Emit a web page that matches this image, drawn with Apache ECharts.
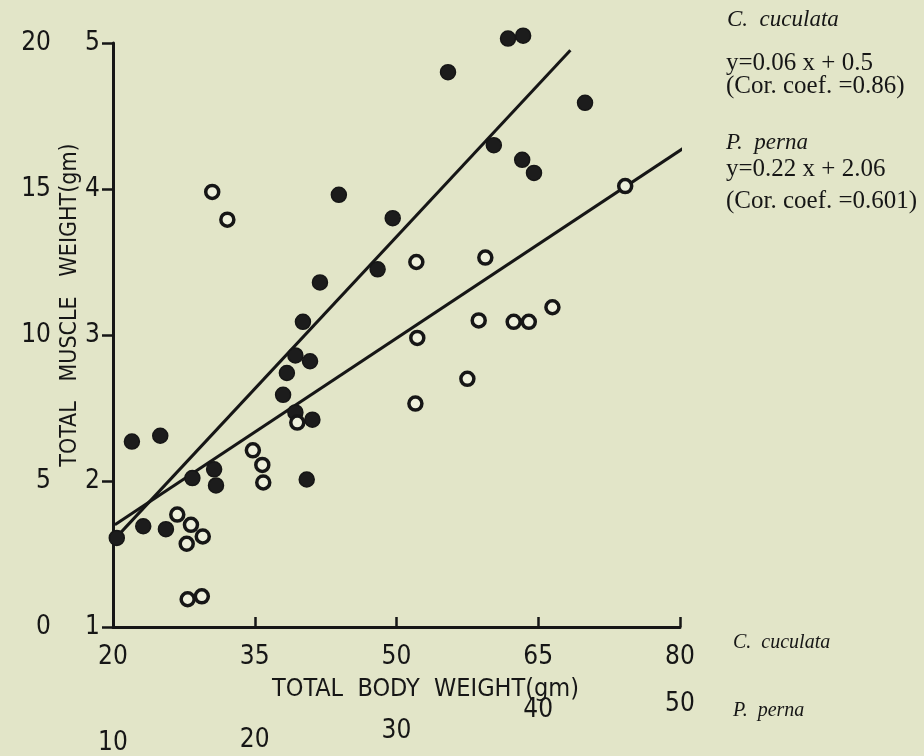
<!DOCTYPE html>
<html>
<head>
<meta charset="utf-8">
<script src="https://cdn.jsdelivr.net/npm/echarts@6/dist/echarts.min.js"></script>
<style>
html,body{margin:0;padding:0;background:#e2e5c8;}
#chart{width:924px;height:756px;}
</style>
</head>
<body>
<div id="chart"></div>
<script>
// Primary scale (C. cuculata body weight, muscle weight gm)
var xTicksMain = [20, 35, 50, 65, 80];
var yTicksMain = [1, 2, 3, 4, 5];
// Secondary scales (P. perna)
var xTicksPerna = [10, 20, 30, 40, 50];
var yTicksPerna = [0, 5, 10, 15, 20];

// Dark (thick / filled) points
var darkPoints = [
  [61.8, 5.03], [63.4, 5.05], [55.45, 4.80], [69.95, 4.59], [60.3, 4.30],
  [63.3, 4.20], [64.55, 4.11], [49.6, 3.80], [43.9, 3.96], [48.0, 3.45],
  [41.9, 3.36], [40.1, 3.09], [39.3, 2.86], [40.85, 2.82], [38.4, 2.74],
  [38.0, 2.59], [39.3, 2.47], [41.1, 2.42], [22.0, 2.27], [25.0, 2.31],
  [30.9, 1.97], [30.7, 2.08], [28.4, 2.02], [40.5, 2.01], [23.2, 1.69],
  [25.6, 1.67], [20.4, 1.61]
];
// Open ring points
var openPoints = [
  [30.5, 3.98], [32.1, 3.79], [52.1, 3.50], [59.4, 3.53], [52.2, 2.98],
  [57.5, 2.70], [52.0, 2.53], [66.5, 3.19], [62.4, 3.09], [64.0, 3.09],
  [58.7, 3.10], [74.2, 4.02], [34.8, 2.21], [35.8, 2.11], [35.9, 1.99],
  [26.8, 1.77], [28.25, 1.70], [29.5, 1.62], [27.8, 1.57], [27.9, 1.19],
  [29.4, 1.21], [39.5, 2.40]
];
// Regression lines (end points in data units)
var lineSteep = [[20.0, 1.59], [68.4, 4.95]];
var lineShallow = [[20.2, 1.70], [81.3, 4.32]];

// Label lifts for staggered P. perna ticks
var pernaLift = [0, 3, 12, 33, 39];

var ink = '#161616';
var condensed = '"DejaVu Sans Condensed", "DejaVu Sans", sans-serif';
var serif = '"Liberation Serif", "DejaVu Serif", serif';

var rich = {};
pernaLift.forEach(function (l, i) { rich['p' + i] = { padding: [0, 0, l, 0], fontFamily: condensed, fontSize: 26, color: ink }; });

var chart = echarts.init(document.getElementById('chart'));
chart.setOption({
  animation: false,
  backgroundColor: '#e2e5c8',
  grid: { left: 113, right: 244, top: 43, bottom: 126 },
  xAxis: [
    {
      type: 'value', min: xTicksMain[0], max: xTicksMain[xTicksMain.length - 1], interval: 15,
      splitLine: { show: false },
      axisLine: { lineStyle: { color: ink, width: 3 } },
      axisTick: { inside: true, length: 10, lineStyle: { color: ink, width: 2.5 } },
      axisLabel: { margin: 17, fontFamily: condensed, fontSize: 26, color: ink }
    },
    {
      type: 'value', position: 'bottom', offset: 127,
      min: xTicksPerna[0], max: xTicksPerna[xTicksPerna.length - 1], interval: 10,
      splitLine: { show: false }, axisLine: { show: false }, axisTick: { show: false },
      axisLabel: {
        margin: 2, verticalAlign: 'bottom',
        formatter: function (v) { var i = xTicksPerna.indexOf(v); return '{p' + i + '|' + v + '}'; },
        rich: rich
      }
    }
  ],
  yAxis: [
    {
      type: 'value', min: yTicksMain[0], max: yTicksMain[yTicksMain.length - 1], interval: 1,
      splitLine: { show: false },
      axisLine: { lineStyle: { color: ink, width: 3 } },
      axisTick: { length: 11, lineStyle: { color: ink, width: 2.5 } },
      axisLabel: { margin: 13, fontFamily: condensed, fontSize: 26, color: ink },
      name: 'TOTAL   MUSCLE   WEIGHT(gm)', nameLocation: 'middle', nameGap: 31, nameRotate: 90,
      nameMoveOverlap: false,
      nameTextStyle: { fontFamily: condensed, fontSize: 23, color: ink, padding: [0, 0, 0, 60] }
    },
    {
      type: 'value', position: 'left', offset: 60,
      min: yTicksPerna[0], max: yTicksPerna[yTicksPerna.length - 1], interval: 5,
      splitLine: { show: false }, axisLine: { show: false }, axisTick: { show: false },
      axisLabel: { margin: 2, fontFamily: condensed, fontSize: 26, color: ink }
    }
  ],
  graphic: [
    { type: 'text', left: 272, top: 677, style: { text: 'TOTAL  BODY  WEIGHT(gm)', font: '25px ' + condensed, fill: ink } },
    { type: 'text', left: 733, top: 633, style: { text: 'C.  cuculata', font: 'italic 20px ' + serif, fill: ink } },
    { type: 'text', left: 733, top: 701, style: { text: 'P.  perna', font: 'italic 20px ' + serif, fill: ink } },
    { type: 'text', left: 727, top: 8, style: { text: 'C.  cuculata', font: 'italic 23px ' + serif, fill: ink } },
    { type: 'text', left: 726, top: 51, style: { text: 'y=0.06 x + 0.5', font: '25px ' + serif, fill: ink } },
    { type: 'text', left: 726, top: 74, style: { text: '(Cor. coef. =0.86)', font: '25px ' + serif, fill: ink } },
    { type: 'text', left: 726, top: 131, style: { text: 'P.  perna', font: 'italic 23px ' + serif, fill: ink } },
    { type: 'text', left: 726, top: 157, style: { text: 'y=0.22 x + 2.06', font: '25px ' + serif, fill: ink } },
    { type: 'text', left: 726, top: 189, style: { text: '(Cor. coef. =0.601)', font: '25px ' + serif, fill: ink } }
  ],
  series: [
    {
      type: 'line', data: lineSteep, symbol: 'none', clip: false,
      lineStyle: { color: ink, width: 3 }, z: 2
    },
    {
      type: 'line', data: lineShallow, symbol: 'none', clip: false,
      lineStyle: { color: ink, width: 3 }, z: 2
    },
    {
      name: 'dark', type: 'scatter', data: darkPoints, clip: false, symbolSize: 15,
      itemStyle: { color: '#1c1c1c', borderColor: ink, borderWidth: 1.5, opacity: 1 }, z: 3
    },
    {
      name: 'open', type: 'scatter', data: openPoints, clip: false, symbolSize: 13,
      itemStyle: { color: '#eef0dc', borderColor: ink, borderWidth: 3.5, opacity: 1 }, z: 3
    }
  ]
});
</script>
</body>
</html>
